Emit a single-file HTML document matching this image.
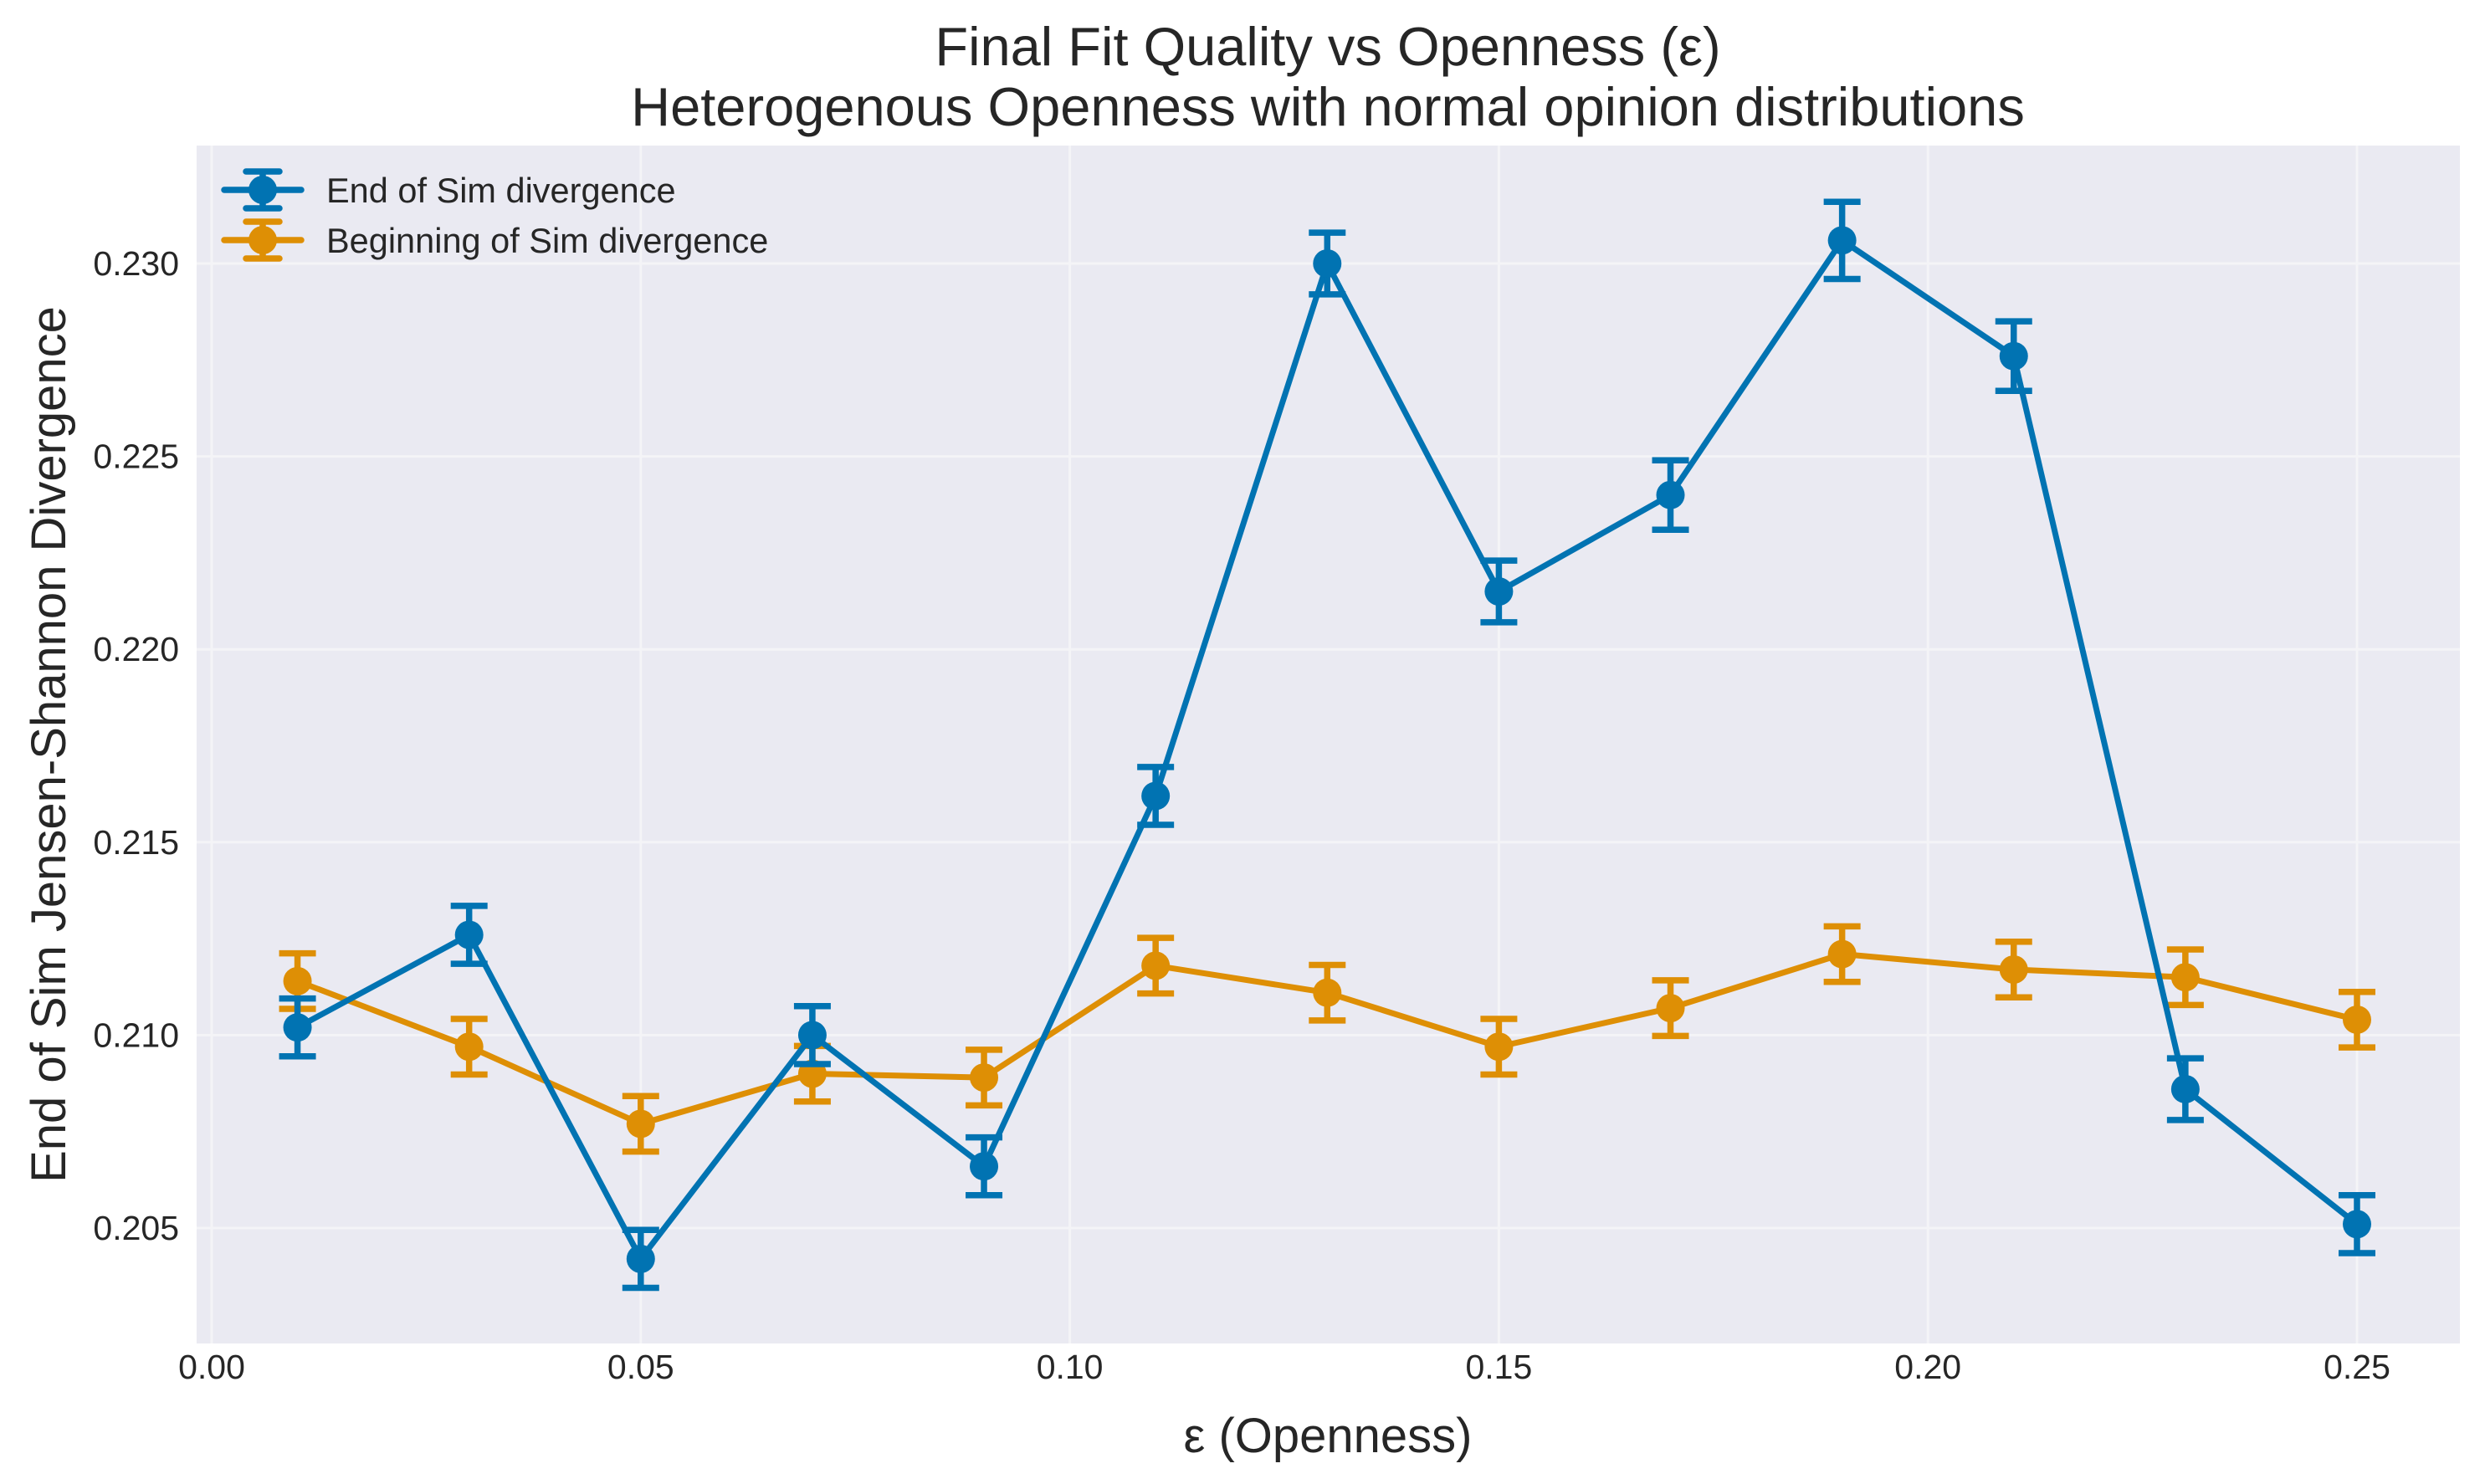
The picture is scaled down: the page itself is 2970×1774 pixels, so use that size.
<!DOCTYPE html>
<html><head><meta charset="utf-8"><style>
html,body{margin:0;padding:0;background:#fff;}
svg{display:block;font-family:"Liberation Sans",sans-serif;}
</style></head><body>
<svg id="chart" width="2970" height="1774" viewBox="0 0 2970 1774" xmlns="http://www.w3.org/2000/svg">
<rect x="235" y="174" width="2705" height="1432" fill="#eaeaf2"/>
<g id="grid"></g>
<g id="ticks"></g>
<g id="series"></g>
<text x="1587" y="78" font-size="65" text-anchor="middle" fill="#262626">Final Fit Quality vs Openness (ε)</text>
<text x="1587" y="150" font-size="65" text-anchor="middle" fill="#262626">Heterogenous Openness with normal opinion distributions</text>
<text x="1587" y="1736" font-size="58" text-anchor="middle" fill="#262626">ε (Openness)</text>
<text transform="translate(78,890) rotate(-90)" font-size="58" text-anchor="middle" fill="#262626">End of Sim Jensen-Shannon Divergence</text>
<g id="legend"></g>
</svg>
<script>
const xValues = [0.01,0.03,0.05,0.07,0.09,0.11,0.13,0.15,0.17,0.19,0.21,0.23,0.25];
const endValues = [0.2102,0.2126,0.2042,0.2100,0.2066,0.2162,0.2300,0.2215,0.2240,0.2306,0.2276,0.2086,0.2051];
const endErrors = [0.00075,0.00075,0.00075,0.00075,0.00075,0.00075,0.0008,0.0008,0.0009,0.001,0.0009,0.0008,0.00075];
const beginValues = [0.2114,0.2097,0.2077,0.2090,0.2089,0.2118,0.2111,0.2097,0.2107,0.2121,0.2117,0.2115,0.2104];
const beginErrors = [0.00072,0.00072,0.00072,0.00072,0.00072,0.00072,0.00072,0.00072,0.00072,0.00072,0.00072,0.00072,0.00072];
const xTicks = [0.00,0.05,0.10,0.15,0.20,0.25];
const xTickLabels = ["0.00","0.05","0.10","0.15","0.20","0.25"];
const yTicks = [0.205,0.210,0.215,0.220,0.225,0.230];
const yTickLabels = ["0.205","0.210","0.215","0.220","0.225","0.230"];

const NS="http://www.w3.org/2000/svg";
const X0=253, XPX=2564/0.25;
const Y0=1468, YPX=1153/0.025;
function xs(v){return X0+v*XPX;}
function ys(v){return Y0-(v-0.205)*YPX;}
function mk(tag,attrs,parent){const e=document.createElementNS(NS,tag);for(const k in attrs)e.setAttribute(k,attrs[k]);parent.appendChild(e);return e;}
const grid=document.getElementById('grid'), ticks=document.getElementById('ticks'), series=document.getElementById('series'), legend=document.getElementById('legend');
xTicks.forEach((t,i)=>{
  const l=mk('line',{x1:xs(t),x2:xs(t),y1:174,y2:1606,stroke:'#f4f4f7','stroke-width':3},grid);
  
  
  const tx=mk('text',{x:xs(t),y:1648,'font-size':41,'text-anchor':'middle',fill:'#262626'},ticks);
  tx.textContent=xTickLabels[i];
  
  
});
yTicks.forEach((t,i)=>{
  const l=mk('line',{x1:235,x2:2940,y1:ys(t),y2:ys(t),stroke:'#f4f4f7','stroke-width':3},grid);
  
  
  const tx=mk('text',{x:214,y:ys(t)+14,'font-size':41,'text-anchor':'end',fill:'#262626'},ticks);
  tx.textContent=yTickLabels[i];
  
  
});
function drawSeries(vals,errs,color,name){
  const g=mk('g',{},series);
  
  
  const pts=xValues.map((x,i)=>xs(x)+','+ys(vals[i])).join(' ');
  const pl=mk('polyline',{points:pts,fill:'none',stroke:color,'stroke-width':7,'stroke-linejoin':'round'},g);
  
  
  xValues.forEach((x,i)=>{
    const cx=xs(x), top=ys(vals[i]+errs[i]), bot=ys(vals[i]-errs[i]);
    const eb=mk('path',{d:`M${cx},${top}V${bot}M${cx-22},${top}H${cx+22}M${cx-22},${bot}H${cx+22}`,stroke:color,'stroke-width':7.5,fill:'none'},g);
    
    
    const c=mk('circle',{cx:cx,cy:ys(vals[i]),r:17,fill:color},g);
    
    
  });
}
drawSeries(beginValues,beginErrors,'#de8f05','beginning-series');
drawSeries(endValues,endErrors,'#0173b2','end-series');
[['End of Sim divergence','#0173b2',227],['Beginning of Sim divergence','#de8f05',287]].forEach(([lab,col,y])=>{
  const g=mk('g',{},legend);
  
  
  mk('path',{d:`M268,${y}H360M314,${y-22}V${y+22}M294,${y-22}H334M294,${y+22}H334`,stroke:col,'stroke-width':7.5,fill:'none','stroke-linecap':'round'},g);
  mk('circle',{cx:314,cy:y,r:17,fill:col},g);
  const t=mk('text',{x:390,y:y+15,'font-size':41.5,fill:'#262626'},g);
  t.textContent=lab;
});
</script>
</body></html>
